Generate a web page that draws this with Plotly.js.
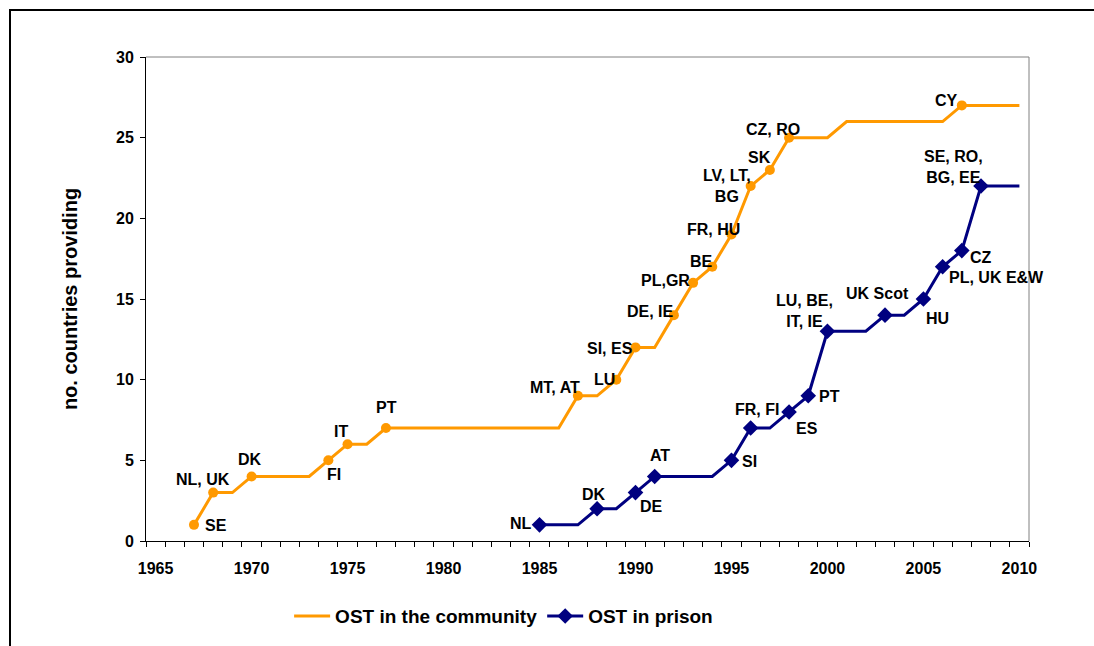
<!DOCTYPE html>
<html>
<head>
<meta charset="utf-8">
<script src="https://cdn.plot.ly/plotly-3.0.1.min.js"></script>
<style>
  html, body { margin: 0; padding: 0; background: #fff; }
  #chart { width: 1094px; height: 646px; }
  #frame { position: absolute; left: 9px; top: 9px; width: 1090px; height: 640px;
           border-top: 2px solid #000; border-left: 2px solid #000; pointer-events: none; }
</style>
</head>
<body>
<div id="chart"></div>
<div id="frame"></div>
<script>
// ---------- DATA ----------
// OST in the community: full step path
const communityYears  = [1967,1968,1969,1970,1973,1974,1975,1976,1977,1986,1987,1988,1989,1990,1991,1992,1993,1994,1995,1996,1997,1998,2000,2001,2006,2007,2010];
const communityValues = [1,   3,   3,   4,   4,   5,   6,   6,   7,   7,   9,   9,   10,  12,  12,  14,  16,  17,  19,  22,  23,  25,  25,  26,  26,  27,  27];
// labelled (marked) community points
const communityMarkYears  = [1967,1968,1970,1974,1975,1977,1987,1989,1990,1992,1993,1994,1995,1996,1997,1998,2007];
const communityMarkValues = [1,   3,   4,   5,   6,   7,   9,   10,  12,  14,  16,  17,  19,  22,  23,  25,  27];
const communityLabels = ["SE","NL, UK","DK","FI","IT","PT","MT, AT","LU","SI, ES","DE, IE","PL,GR","BE","FR, HU","LV, LT,<br>BG","SK","CZ, RO","CY"];

// OST in prison: full step path
const prisonYears  = [1985,1987,1988,1989,1990,1991,1994,1995,1996,1997,1998,1999,2000,2002,2003,2004,2005,2006,2007,2008,2010];
const prisonValues = [1,   1,   2,   2,   3,   4,   4,   5,   7,   7,   8,   9,   13,  13,  14,  14,  15,  17,  18,  22,  22];
const prisonMarkYears  = [1985,1988,1990,1991,1995,1996,1998,1999,2000,2003,2005,2006,2007,2008];
const prisonMarkValues = [1,   2,   3,   4,   5,   7,   8,   9,   13,  14,  15,  17,  18,  22];
const prisonLabels = ["NL","DK","DE","AT","SI","FR, FI","ES","PT","LU, BE,<br>IT, IE","UK Scot","HU","PL, UK E&W","CZ","SE, RO,<br>BG, EE"];

const yearTicks = [1965,1970,1975,1980,1985,1990,1995,2000,2005,2010];

// ---------- STYLE (label offsets in px, relative to the marker) ----------
const communityLabelShift = [[22,-1],[-10,13],[-2,17],[6,-14],[-7,13],[1,21],[-23,8],[-12,0],[-25,-1],[-23,4],[-28,2],[-11,5],[-18,5],[-24,0],[-10,12],[-16,8],[-15,5]];
const prisonLabelShift    = [[-19,1],[-3,14],[16,-14],[5,21],[18,-1],[6,19],[18,-17],[21,-1],[-23,20],[-8,22],[14,-19],[54,-11],[19,-7],[-28,19]];

const ORANGE = "#FF9900", NAVY = "#000080";
const FONT = "Liberation Sans, Arial, sans-serif";
const labelFont = {family: FONT, size: 16, color: "#000", weight: "bold"};

const traces = [
  {x: communityYears, y: communityValues, type: "scatter", mode: "lines",
   line: {color: ORANGE, width: 3}, name: "OST in the community", showlegend: true},
  {x: communityMarkYears, y: communityMarkValues, type: "scatter", mode: "markers",
   marker: {color: ORANGE, size: 10, symbol: "circle"}, showlegend: false, hoverinfo: "skip"},
  {x: prisonYears, y: prisonValues, type: "scatter", mode: "lines",
   line: {color: NAVY, width: 3}, name: "OST in prison", showlegend: false},
  {x: prisonMarkYears, y: prisonMarkValues, type: "scatter", mode: "markers",
   marker: {color: NAVY, size: 12, symbol: "diamond"}, showlegend: false, hoverinfo: "skip"},
  {x: [null], y: [null], type: "scatter", mode: "lines+markers",
   line: {color: NAVY, width: 3}, marker: {color: NAVY, size: 12, symbol: "diamond"},
   name: "OST in prison", showlegend: true}
];

function makeLabels(xs, ys, texts, shifts) {
  return texts.map((t, i) => ({
    x: xs[i], y: ys[i], xref: "x", yref: "y", text: t, showarrow: false,
    xanchor: "center", yanchor: "middle", align: "center",
    xshift: shifts[i][0], yshift: shifts[i][1], font: labelFont
  }));
}

const annotations = makeLabels(communityMarkYears, communityMarkValues, communityLabels, communityLabelShift)
  .concat(makeLabels(prisonMarkYears, prisonMarkValues, prisonLabels, prisonLabelShift));

const layout = {
  width: 1094, height: 646,
  margin: {l: 146, r: 65, t: 57, b: 104},
  paper_bgcolor: "#fff", plot_bgcolor: "#fff",
  font: {family: FONT, color: "#000"},
  showlegend: true,
  legend: {orientation: "h", x: 0.405, xanchor: "center", y: -0.153, yanchor: "middle",
           font: {family: FONT, size: 19, weight: "bold", color: "#000"},
           itemwidth: 36, tracegroupgap: 0},
  xaxis: {
    range: [1964.5, 2010.5], tickmode: "array", tickvals: yearTicks,
    ticktext: yearTicks.map(String), ticks: "", showgrid: false, zeroline: false,
    showline: true, linecolor: "#000", linewidth: 1,
    tickfont: {family: FONT, size: 16, weight: "bold", color: "#000"},
    ticklabelstandoff: 13,
    minor: {ticks: "outside", tickmode: "linear", tick0: 1964.5, dtick: 1, ticklen: 5,
            tickcolor: "#000", tickwidth: 1, showgrid: false}
  },
  yaxis: {
    range: [0, 30], dtick: 5, tick0: 0, ticks: "outside", ticklen: 5, tickcolor: "#000",
    showgrid: false, zeroline: false, showline: true, linecolor: "#000", linewidth: 1,
    tickfont: {family: FONT, size: 16, weight: "bold", color: "#000"},
    ticklabelstandoff: 3,
    title: {text: "no. countries providing", standoff: 33,
            font: {family: FONT, size: 20, weight: "bold", color: "#000"}}
  },
  annotations: annotations,
  shapes: [
    {type: "line", xref: "paper", yref: "paper", x0: 0, x1: 1, y0: 1, y1: 1,
     line: {color: "#808080", width: 1}},
    {type: "line", xref: "paper", yref: "paper", x0: 1, x1: 1, y0: 0, y1: 1,
     line: {color: "#808080", width: 1}}
  ]
};

Plotly.newPlot("chart", traces, layout, {displayModeBar: false, staticPlot: true});
</script>
</body>
</html>
